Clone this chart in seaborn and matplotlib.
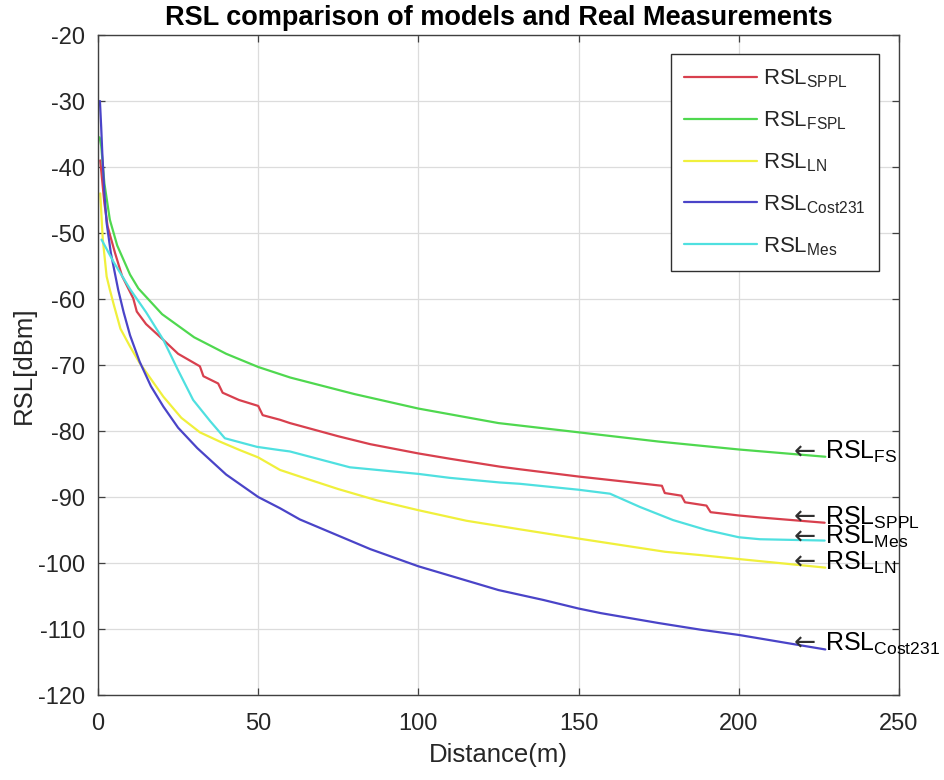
import numpy as np
import pandas as pd
import matplotlib
matplotlib.use("Agg")
import matplotlib.pyplot as plt
import seaborn as sns

# ---------------- data ----------------
x_sppl = [0.7, 2, 3, 5.3, 7.5, 11, 12.1, 15, 20.4, 25, 31.8, 32.9, 37.5, 38.9,
          44, 50, 51.4, 56.8, 59.9, 75, 85, 100, 109.8, 125.4, 131.7, 150,
          165, 176, 176.9, 182.1, 183.2, 189.9, 191.2, 200, 206.6, 226.8]
y_sppl = [-39, -45.5, -49, -53, -56.5, -59.9, -61.9, -63.8, -66.2, -68.3, -70.2, -71.7, -72.8, -74.2,
          -75.3, -76.2, -77.6, -78.3, -78.8, -80.8, -82.0, -83.4, -84.2, -85.4, -85.8, -86.9,
          -87.7, -88.3, -89.4, -89.8, -90.8, -91.3, -92.3, -92.8, -93.1, -93.9]

x_fspl = [0.5, 1, 2, 3.7, 6, 10, 12.6, 20, 30, 40, 50, 60, 80, 100, 125, 150, 175, 200, 227]
y_fspl = [-35.5, -36.8, -42.5, -48.0, -51.9, -56.3, -58.4, -62.3, -65.8, -68.3, -70.3, -71.9, -74.4,
          -76.6, -78.8, -80.2, -81.6, -82.8, -83.9]

x_ln = [0.7, 1.5, 2.7, 3.7, 5, 7, 10, 13, 20.4, 26, 31.8, 38, 44.3, 50, 56.8, 63, 75, 87,
        100, 115, 131.7, 150, 177, 188, 200, 227]
y_ln = [-44, -51, -56.6, -58.6, -61, -64.5, -67.2, -69.7, -74.8, -78.0, -80.2, -81.6, -82.9,
        -84.0, -85.9, -86.9, -88.8, -90.5, -92.0, -93.6, -94.9, -96.3, -98.3, -98.8, -99.4, -100.7]

x_cost = [0.6, 1, 1.35, 2, 2.7, 4, 6.3, 8, 10, 13, 16.5, 20.4, 25, 31, 40, 50, 56.8, 63, 85, 100,
          125, 139, 150, 157, 175, 188, 200, 227]
y_cost = [-30, -34, -38, -44, -48.5, -53, -58.6, -62.0, -65.5, -69.5, -73.2, -76.3, -79.5, -82.6,
          -86.6, -90, -91.7, -93.4, -97.9, -100.5, -104.1, -105.6, -106.9, -107.6, -109.1, -110.1,
          -110.9, -113.1]

x_mes = [1.1, 5, 10, 15, 20.4, 25, 29.7, 35, 39.6, 49.6, 56.8, 59.9, 78.6, 100, 109.8,
         125.4, 131.7, 150, 159.8, 169.1, 179.5, 189.9, 200, 206.6, 226.8]
y_mes = [-51, -54.5, -58.5, -62, -66.2, -70.8, -75.3, -78.5, -81.1, -82.4, -82.9, -83.1, -85.5,
         -86.5, -87.1, -87.8, -88.0, -88.9, -89.5, -91.5, -93.5, -95.0, -96.1, -96.4, -96.6]

legend_labels = ["$RSL_{SPPL}$", "$RSL_{FSPL}$", "$RSL_{LN}$", "$RSL_{Cost231}$", "$RSL_{Mes}$"]
line_colors = ["#d8404e", "#4fd84f", "#f0f03c", "#4a44c8", "#4fe0e0"]

annot_labels = ["$RSL_{FS}$", "$RSL_{SPPL}$", "$RSL_{Mes}$", "$RSL_{LN}$", "$RSL_{Cost231}$"]
annot_x = 217.2
annot_y = [-83.2, -93.1, -96.1, -99.95, -112.2]

x_ticks = [0, 50, 100, 150, 200, 250]
y_ticks = [-120, -110, -100, -90, -80, -70, -60, -50, -40, -30, -20]

# ---------------- build long table ----------------
frames = []
for lab, xs, ys in zip(legend_labels,
                       [x_sppl, x_fspl, x_ln, x_cost, x_mes],
                       [y_sppl, y_fspl, y_ln, y_cost, y_mes]):
    frames.append(pd.DataFrame({"Distance": xs, "RSL": ys, "Model": lab}))
df = pd.concat(frames, ignore_index=True)

# ---------------- style ----------------
sns.set_theme(style="ticks")
plt.rcParams["font.family"] = ["Liberation Sans", "DejaVu Sans"]
plt.rcParams["mathtext.fontset"] = "custom"
plt.rcParams["mathtext.rm"] = "Liberation Sans"
plt.rcParams["mathtext.it"] = "Liberation Sans"
plt.rcParams["mathtext.bf"] = "Liberation Sans:bold"
plt.rcParams["mathtext.default"] = "regular"
plt.rcParams["mathtext.fallback"] = "stixsans"
plt.rcParams["axes.unicode_minus"] = False

fig = plt.figure(figsize=(9.44, 7.80), dpi=100)
ax = fig.add_axes([98 / 944, 1 - 695 / 780, (899 - 98) / 944, (695 - 35) / 780])

sns.lineplot(data=df, x="Distance", y="RSL", hue="Model", hue_order=legend_labels,
             palette=line_colors, sort=False, estimator=None, linewidth=1.6, ax=ax)

ax.set_xlim(0, 250)
ax.set_ylim(-120, -20)
ax.set_xticks(x_ticks)
ax.set_yticks(y_ticks)
ax.grid(True, color="#dcdcdc", linewidth=0.9)
ax.set_axisbelow(True)
for s in ax.spines.values():
    s.set_visible(True)
    s.set_color("#404040")
    s.set_linewidth(1.0)
ax.tick_params(direction="in", length=5, width=0.9, color="#404040",
               top=True, right=True, labelsize=17, labelcolor="#262626")
ax.tick_params(axis="x", pad=13)
ax.tick_params(axis="y", pad=9)

ax.set_xlabel("Distance(m)", fontsize=18.5, color="#262626", labelpad=6)
ax.set_ylabel("RSL[dBm]", fontsize=18.5, color="#262626", labelpad=2)
ax.set_title("RSL comparison of models and Real Measurements", fontsize=19.5,
             fontweight="bold", color="black", pad=7)

handles, labels = ax.get_legend_handles_labels()
leg = ax.legend(handles, labels, loc="upper right", bbox_to_anchor=(0.975, 0.971),
                borderaxespad=0, fontsize=16, handlelength=3.3, handletextpad=0.25,
                labelspacing=0.87, borderpad=0.6, frameon=True, fancybox=False,
                framealpha=1, edgecolor="#303030")
leg.get_frame().set_linewidth(1.0)

for lab, yv in zip(annot_labels, annot_y):
    ax.annotate("\u2190", xy=(annot_x, yv), xytext=(0, -7), textcoords="offset pixels",
                fontsize=19, va="baseline", ha="left", color="#303030",
                family="DejaVu Sans", annotation_clip=False)
    ax.annotate(lab, xy=(annot_x, yv), xytext=(31, -7), textcoords="offset pixels",
                fontsize=18, va="baseline", ha="left", color="black",
                annotation_clip=False)

fig.savefig("out.png", dpi=100)
